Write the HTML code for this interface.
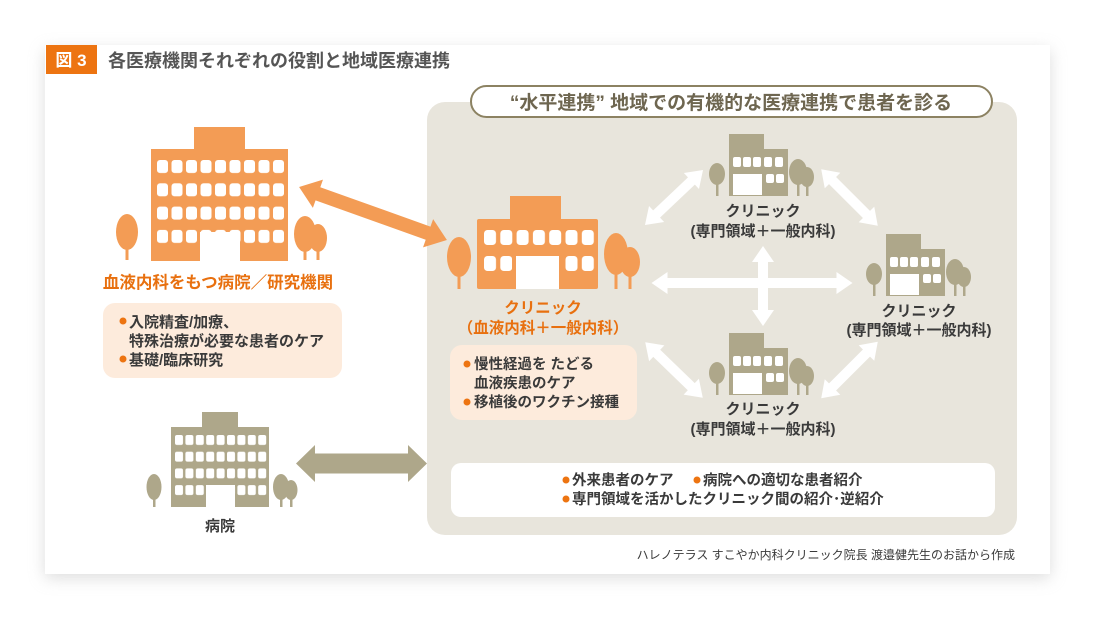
<!DOCTYPE html>
<html><head><meta charset="utf-8"><style>
html,body{margin:0;padding:0;background:#fff;}
svg{display:block;}
text{font-family:"Liberation Sans","Noto Sans CJK JP",sans-serif;}
</style></head><body>
<svg width="1107" height="631" viewBox="0 0 1107 631" xmlns="http://www.w3.org/2000/svg">
<defs>
<filter id="sh" x="-5%" y="-5%" width="110%" height="115%"><feGaussianBlur stdDeviation="8"/></filter>
<pattern id="wo" x="157" y="160" width="14.5" height="23.3" patternUnits="userSpaceOnUse"><rect x="0" y="0" width="11" height="13" rx="3" fill="#fff"/></pattern>
<pattern id="wo2" x="484" y="230" width="16.3" height="26" patternUnits="userSpaceOnUse"><rect x="0" y="0" width="12" height="15" rx="3.5" fill="#fff"/></pattern>
<pattern id="wg" x="175" y="435" width="10.4" height="16.7" patternUnits="userSpaceOnUse"><rect x="0" y="0" width="8" height="10" rx="2" fill="#fff"/></pattern>
<g id="gc">
 <ellipse cx="-12" cy="40" rx="8" ry="11" fill="#aea78a"/><rect x="-13" y="44" width="2.5" height="18" fill="#aea78a"/>
 <ellipse cx="69" cy="38" rx="9" ry="13" fill="#aea78a"/><rect x="68" y="44" width="2.5" height="18" fill="#aea78a"/>
 <ellipse cx="78" cy="43" rx="7" ry="10" fill="#aea78a"/><rect x="77" y="46" width="2.5" height="16" fill="#aea78a"/>
 <rect x="0" y="0" width="35" height="62" fill="#aea78a"/>
 <rect x="35" y="15" width="24" height="47" fill="#aea78a"/>
 <rect x="4" y="23" width="8" height="10" rx="2" fill="#fff"/><rect x="14" y="23" width="8" height="10" rx="2" fill="#fff"/><rect x="24" y="23" width="8" height="10" rx="2" fill="#fff"/><rect x="35" y="23" width="8" height="10" rx="2" fill="#fff"/><rect x="46" y="23" width="8" height="10" rx="2" fill="#fff"/>
 <rect x="4" y="40" width="29" height="21" fill="#fff"/>
 <rect x="37" y="40" width="8" height="9" rx="2" fill="#fff"/><rect x="47" y="40" width="8" height="9" rx="2" fill="#fff"/>
</g>
</defs>
<rect x="45" y="50" width="1005" height="528" fill="#bbb" opacity="0.5" filter="url(#sh)"/>
<rect x="45" y="45" width="1005" height="529" fill="#fff"/>
<rect x="46" y="45" width="51" height="29" fill="#ed7411"/>
<text x="71" y="66" font-size="17" font-weight="bold" fill="#fff" text-anchor="middle">図 3</text>
<text x="108" y="67" font-size="18" font-weight="bold" fill="#555">各医療機関それぞれの役割と地域医療連携</text>

<rect x="427" y="102" width="590" height="433" rx="18" fill="#e8e5dc"/>
<rect x="471" y="86" width="521" height="31" rx="15.5" fill="#fff" stroke="#8c8262" stroke-width="2"/>
<text x="731" y="109" font-size="19" font-weight="bold" fill="#6e6650" text-anchor="middle">“水平連携”  地域での有機的な医療連携で患者を診る</text>

<ellipse cx="127" cy="232" rx="11" ry="18" fill="#f39c55"/><rect x="125.5" y="240" width="3" height="20" fill="#f39c55"/>
<ellipse cx="305" cy="234" rx="11" ry="18" fill="#f39c55"/><rect x="303.5" y="240" width="3" height="20" fill="#f39c55"/>
<ellipse cx="318" cy="238" rx="9" ry="14" fill="#f39c55"/><rect x="316.5" y="245" width="3" height="15" fill="#f39c55"/>
<rect x="194" y="127" width="51" height="23" fill="#f39c55"/>
<rect x="151" y="149" width="137" height="112" fill="#f39c55"/>
<rect x="157" y="160" width="130" height="84" fill="url(#wo)"/>
<rect x="200" y="232" width="40" height="29" fill="#fff"/>
<text x="218" y="288" font-size="16.5" font-weight="bold" fill="#e8700f" text-anchor="middle">血液内科をもつ病院／研究機関</text>
<rect x="103" y="303" width="239" height="75" rx="12" fill="#fdebdc"/>
<g font-size="15" font-weight="bold" fill="#3a3a3a">
<circle cx="123" cy="321" r="3.5" fill="#ed7411"/><text x="129" y="327">入院精査/加療、</text>
<text x="129" y="346">特殊治療が必要な患者のケア</text>
<circle cx="123" cy="359" r="3.5" fill="#ed7411"/><text x="129" y="365">基礎/臨床研究</text>
</g>

<ellipse cx="154" cy="487" rx="7.5" ry="13" fill="#aea78a"/><rect x="153" y="492" width="2.5" height="15" fill="#aea78a"/>
<ellipse cx="281" cy="487" rx="8" ry="13" fill="#aea78a"/><rect x="280" y="492" width="2.5" height="15" fill="#aea78a"/>
<ellipse cx="291" cy="490" rx="6.5" ry="10" fill="#aea78a"/><rect x="290" y="495" width="2.5" height="12" fill="#aea78a"/>
<rect x="202" y="412" width="36" height="16" fill="#aea78a"/>
<rect x="171" y="427" width="98" height="80" fill="#aea78a"/>
<rect x="175" y="435" width="93" height="61" fill="url(#wg)"/>
<rect x="206" y="485" width="29" height="22" fill="#fff"/>
<text x="220" y="531" font-size="15" font-weight="bold" fill="#3a3a3a" text-anchor="middle">病院</text>

<g transform="translate(373,213.5) rotate(19.7)"><polygon points="-78.5,0 -58.5,-15 -58.5,-7 58.5,-7 58.5,-15 78.5,0 58.5,15 58.5,7 -58.5,7 -58.5,15" fill="#f39c55"/></g>
<g transform="translate(361.5,463.5)"><polygon points="-65.5,0 -46.5,-18.5 -46.5,-10 46.5,-10 46.5,-18.5 65.5,0 46.5,18.5 46.5,10 -46.5,10 -46.5,18.5" fill="#aea78a"/></g>
<g fill="#fff">
<g transform="translate(752,283)"><polygon points="-100.5,0 -84.5,-11 -84.5,-5 84.5,-5 84.5,-11 100.5,0 84.5,11 84.5,5 -84.5,5 -84.5,11"/></g>
<g transform="translate(763,286) rotate(90)"><polygon points="-40,0 -24,-11 -24,-5 24,-5 24,-11 40,0 24,11 24,5 -24,5 -24,11"/></g>
<g transform="translate(674,197.5) rotate(-43.5)"><polygon points="-40,0 -24,-11 -24,-5 24,-5 24,-11 40,0 24,11 24,5 -24,5 -24,11"/></g>
<g transform="translate(849.5,197.5) rotate(45)"><polygon points="-40,0 -24,-11 -24,-5 24,-5 24,-11 40,0 24,11 24,5 -24,5 -24,11"/></g>
<g transform="translate(674,370) rotate(44)"><polygon points="-40,0 -24,-11 -24,-5 24,-5 24,-11 40,0 24,11 24,5 -24,5 -24,11"/></g>
<g transform="translate(849.5,370) rotate(-45)"><polygon points="-40,0 -24,-11 -24,-5 24,-5 24,-11 40,0 24,11 24,5 -24,5 -24,11"/></g>
</g>

<ellipse cx="459" cy="257" rx="12" ry="20" fill="#f39c55"/><rect x="457.5" y="265" width="3" height="24" fill="#f39c55"/>
<ellipse cx="616" cy="254" rx="12" ry="21" fill="#f39c55"/><rect x="614.5" y="265" width="3" height="24" fill="#f39c55"/>
<ellipse cx="630" cy="262" rx="10" ry="15" fill="#f39c55"/><rect x="628.5" y="270" width="3" height="19" fill="#f39c55"/>
<rect x="510" y="196" width="51" height="24" fill="#f39c55"/>
<rect x="477" y="219" width="121" height="70" rx="2" fill="#f39c55"/>
<rect x="484" y="230" width="112" height="45" fill="url(#wo2)"/>
<rect x="512" y="253" width="51" height="22" fill="#f39c55"/>
<rect x="516" y="256" width="43" height="33" fill="#fff"/>
<text x="543" y="313" font-size="15.5" font-weight="bold" fill="#e8700f" text-anchor="middle">クリニック</text>
<text x="543" y="333" font-size="15.5" font-weight="bold" fill="#e8700f" text-anchor="middle">（血液内科＋一般内科）</text>
<rect x="450" y="345" width="187" height="75" rx="12" fill="#fdebdc"/>
<g font-size="14.5" font-weight="bold" fill="#3a3a3a">
<circle cx="467" cy="364" r="3.5" fill="#ed7411"/><text x="474" y="369">慢性経過を たどる</text>
<text x="474" y="388">血液疾患のケア</text>
<circle cx="467" cy="402" r="3.5" fill="#ed7411"/><text x="474" y="407">移植後のワクチン接種</text>
</g>

<use href="#gc" x="729" y="134"/>
<use href="#gc" x="886" y="234"/>
<use href="#gc" x="729" y="333"/>
<g font-size="15" font-weight="bold" fill="#3a3a3a" text-anchor="middle">
<text x="763" y="216">クリニック</text><text x="763" y="236">(専門領域＋一般内科)</text>
<text x="919" y="316">クリニック</text><text x="919" y="335">(専門領域＋一般内科)</text>
<text x="763" y="414">クリニック</text><text x="763" y="434">(専門領域＋一般内科)</text>
</g>

<rect x="451" y="463" width="544" height="54" rx="10" fill="#fff"/>
<g font-size="14.5" font-weight="bold" fill="#3a3a3a">
<circle cx="566" cy="480" r="3.5" fill="#ed7411"/><text x="572" y="485">外来患者のケア</text>
<circle cx="697" cy="480" r="3.5" fill="#ed7411"/><text x="703" y="485">病院への適切な患者紹介</text>
<circle cx="566" cy="499" r="3.5" fill="#ed7411"/><text x="572" y="504">専門領域を活かしたクリニック間の紹介･逆紹介</text>
</g>
<text x="1015" y="559" font-size="12" fill="#3a3a3a" text-anchor="end">ハレノテラス すこやか内科クリニック院長 渡邉健先生のお話から作成</text>
</svg>
</body></html>
